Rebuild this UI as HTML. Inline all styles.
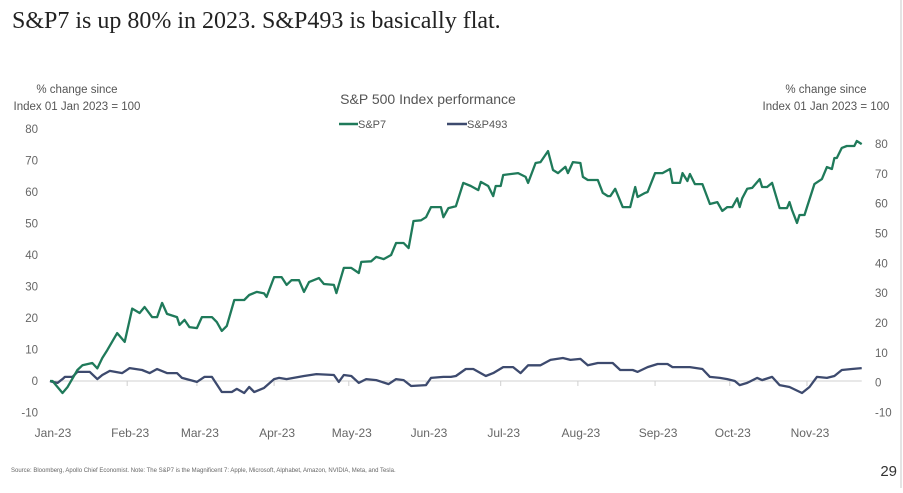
<!DOCTYPE html>
<html><head><meta charset="utf-8"><style>
html,body{margin:0;padding:0;background:#fff;}
body{width:903px;height:488px;overflow:hidden;position:relative;font-family:"Liberation Sans",sans-serif;}
</style></head><body>
<svg id="chart" width="903" height="488" viewBox="0 0 903 488" xmlns="http://www.w3.org/2000/svg">
<line x1="901" y1="0" x2="901" y2="488" stroke="#c8c8c8" stroke-width="1"/>
<text x="12" y="28" font-family="Liberation Serif, serif" font-size="24" fill="#222">S&amp;P7 is up 80% in 2023. S&amp;P493 is basically flat.</text>
<text x="77" y="93" text-anchor="middle" font-size="11.5" fill="#555">% change since</text>
<text x="77" y="110" text-anchor="middle" font-size="11.5" fill="#555">Index 01 Jan 2023 = 100</text>
<text x="826" y="93" text-anchor="middle" font-size="11.5" fill="#555">% change since</text>
<text x="826" y="110" text-anchor="middle" font-size="11.5" fill="#555">Index 01 Jan 2023 = 100</text>
<text x="428" y="104" text-anchor="middle" font-size="14" fill="#555">S&amp;P 500 Index performance</text>
<g>
<line x1="339" y1="124" x2="358" y2="124" stroke="#1f7a5a" stroke-width="2.5"/>
<text x="358" y="128" font-size="11" fill="#555">S&amp;P7</text></g>
<g>
<line x1="447" y1="124" x2="467" y2="124" stroke="#3d4a6e" stroke-width="2.5"/>
<text x="467" y="128" font-size="11" fill="#555">S&amp;P493</text></g>
<g id="axes"></g>
<g id="series"></g>
<text x="11" y="472" font-size="6" fill="#666">Source: Bloomberg, Apollo Chief Economist. Note: The S&amp;P7 is the Magnificent 7: Apple, Microsoft, Alphabet, Amazon, NVIDIA, Meta, and Tesla.</text>
<text x="897" y="476" text-anchor="end" font-size="15" fill="#333">29</text>
</svg>
<script>
const leftTicks = [80,70,60,50,40,30,20,10,0,-10];
const rightTicks = [80,70,60,50,40,30,20,10,0,-10];
const monthLabels = ["Jan-23","Feb-23","Mar-23","Apr-23","May-23","Jun-23","Jul-23","Aug-23","Sep-23","Oct-23","Nov-23"];
const monthStartDays = [0,31,59,90,120,151,181,212,243,273,304];
const sp7Days = [0,1,5,7,11,13,17,19,21,23,27,30,33,36,38,41,43,45,47,51,52,54,56,59,61,65,67,69,71,74,78,80,83,86,87,90,93,95,97,100,102,104,108,110,114,115,118,121,124,125,129,131,134,137,139,142,144,146,149,151,153,157,158,160,163,166,169,172,173,176,178,179,181,182,188,191,192,195,197,200,202,204,207,208,210,213,214,216,220,222,224,225,227,230,233,235,236,239,240,243,246,249,250,253,254,256,257,259,262,265,268,270,272,274,276,277,278,280,282,285,286,288,290,293,296,297,298,300,301,303,304,307,310,312,314,315,316,318,320,323,324,326];
const sp7Values = [0,0,-3.8,-2,3.5,5,5.7,4,7.3,9.8,15.2,12.4,23,21.6,23.5,20.3,20.3,24.8,21.3,20.3,17.8,19.4,17.1,16.8,20.3,20.3,18.7,15.9,17.5,25.7,25.7,27.3,28.3,27.8,26.7,33,33,30.5,32,32,28.3,31.4,32.7,30.8,30.5,27.9,35.9,35.9,34.3,37.8,38,39.4,38.7,40,43.8,43.8,42.2,50.8,51,52,55.2,55.2,52,54.9,55.5,62.9,61.9,60.6,63.2,61.9,58.7,61.9,61.9,65.4,66,64.8,62.9,69.2,69.5,73,67,66,68,66,69.5,69.2,64.8,63.8,63.8,59.7,58.7,58.7,61,55.2,55.2,61.6,58.4,59.7,60,66,66,67.3,62.9,62.9,66,63.5,65.7,62.5,62.5,56.2,56.8,54,55.2,55.2,58,55.2,58,61,61.3,64.1,61.6,61.6,62.9,54.9,54.9,56.8,54.3,50.2,52.7,52.7,55.2,62.5,64.1,67.9,67.3,70.8,70.8,74,74.6,74.6,76.2,75.2];
const sp493Days = [0,1,3,5,6,9,11,16,19,21,24,29,32,37,40,43,47,51,53,59,62,65,69,73,75,78,80,82,86,90,92,95,102,107,114,116,118,121,124,127,131,136,139,142,145,151,153,158,161,163,167,170,175,178,182,186,189,192,197,201,206,209,213,216,220,226,229,234,236,240,244,248,250,257,262,265,269,272,275,277,280,284,286,290,293,297,302,305,308,312,315,318,322,326];
const sp493Values = [0,-0.3,-0.6,0.6,1.3,1.3,2.9,2.9,0.6,1.9,3.2,2.5,4.1,3.5,2.5,3.8,2.5,2.5,1,-0.3,1.3,1.3,-3.5,-3.5,-2.5,-3.8,-1.9,-3.5,-2.2,0.6,1,0.6,1.6,2.2,1.9,-0.3,1.9,1.6,-0.6,0.6,0.3,-1,0.6,0.3,-1.6,-1.3,1,1.3,1.3,1.6,3.8,3.8,1.6,2.5,4.4,4.4,2.5,5,5,6.7,7.3,6.7,7,5,5.7,5.7,3.5,3.5,2.9,4.4,5.4,5.4,4.4,4.4,3.8,1.3,1,0.6,0,-1.3,-0.6,1,0.3,1.3,-1.3,-1.9,-3.8,-1.9,1.3,1,1.6,3.5,3.8,4.1];

const NS = "http://www.w3.org/2000/svg";
const X0 = 50, PX_PER_DAY = 2.49;
function xScale(d){ return X0 + d*PX_PER_DAY; }
function yLeft(v){ return 381 - v*3.15; }
function yRight(v){ return 382.7 - v*2.985; }
function mk(tag, attrs, parent){ const e=document.createElementNS(NS,tag); for(const k in attrs) e.setAttribute(k,attrs[k]); parent.appendChild(e); return e; }

const axes = document.getElementById('axes');
leftTicks.forEach(t=>{
  const e = mk('text',{x:38,y:yLeft(t)+4,'text-anchor':'end','font-size':11.5,fill:'#666'},axes);
  e.textContent = t;
  
  
});
rightTicks.forEach(t=>{
  const e = mk('text',{x:875,y:yRight(t)+4,'font-size':11.5,fill:'#666'},axes);
  e.textContent = t;
  
  
});
const zl = mk('line',{x1:xScale(0),x2:xScale(326),y1:yLeft(0),y2:yLeft(0),stroke:'#d0d0d0','stroke-width':1},axes);


monthStartDays.forEach((d,i)=>{
  if(i>0){
    const tk = mk('line',{x1:xScale(d),x2:xScale(d),y1:yLeft(0),y2:yLeft(0)+5,stroke:'#d0d0d0','stroke-width':1},axes);
    
    
  }
  const e = mk('text',{x:xScale(d)+3,y:437,'text-anchor':'middle','font-size':12,fill:'#666'},axes);
  e.textContent = monthLabels[i];
  
  
});

const series = document.getElementById('series');
function drawLine(days, vals, color, name){
  const n = Math.min(days.length, vals.length);
  let d = '';
  for(let i=0;i<n;i++) d += (i?'L':'M') + xScale(days[i]).toFixed(1) + ',' + yLeft(vals[i]).toFixed(1);
  const p = mk('path',{d:d,fill:'none',stroke:color,'stroke-width':2.3,'stroke-linejoin':'round'},series);
  
  
}
drawLine(sp493Days, sp493Values, '#3d4a6e', 'sp493-line');
drawLine(sp7Days, sp7Values, '#1f7a5a', 'sp7-line');
</script>
</body></html>
